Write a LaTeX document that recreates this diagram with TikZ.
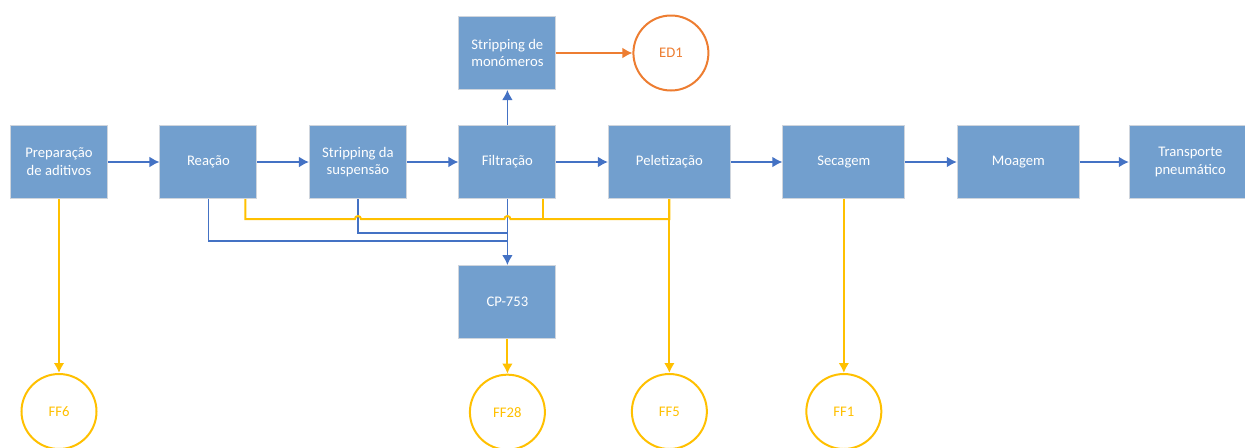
\documentclass[tikz,border=0pt]{standalone}
\usepackage{fontspec}
\setmainfont{Carlito}
\usepackage{tikz}
\usetikzlibrary{arrows.meta, positioning, calc}
\definecolor{boxfill}{HTML}{729FCE}
\definecolor{boxline}{HTML}{CFD5DD}
\definecolor{flowblue}{HTML}{4472C4}
\definecolor{wastey}{HTML}{FFC000}
\definecolor{emisso}{HTML}{ED7D31}

\begin{document}
\begin{tikzpicture}[node distance={38.6pt},
    proc/.style = {draw=boxline, line width=0.75pt, fill=boxfill, text=white, align=center,
                   minimum width=72.75pt, minimum height=54.75pt, inner sep=2pt,
                   font=\fontsize{11}{13.3}\selectfont},
    wide/.style = {proc, minimum width=91.5pt},
    sink/.style = {draw, circle, line width=1.5pt, fill=white, minimum size=56.25pt,
                   font=\fontsize{11}{13.3}\selectfont},
    bflow/.style = {draw=flowblue, line width=1pt, -{Latex[length=7.5pt,width=8pt]}},
    bline/.style = {draw=flowblue, line width=1pt},
    yflow/.style = {draw=wastey, line width=1.5pt, -{Latex[length=7.5pt,width=8pt]}},
    yline/.style = {draw=wastey, line width=1.5pt}]
            \useasboundingbox (0,0) rectangle (933.75pt,-335.25pt);

            \node[proc] (prep) at (44.25pt,-121.5pt) {Preparação\\de aditivos};
            \node[proc] (reac) [right=of prep] {Reação};
            \node[proc] (susp) [right=of reac] {Stripping da\\suspensão};
            \node[proc] (filt) [right=of susp] {Filtração};
            \node[wide] (pelet) [right=of filt] {Peletização};
            \node[wide] (sec) [right=of pelet] {Secagem};
            \node[wide] (moag) [right=of sec] {Moagem};
            \node[wide] (trans) [right=36.75pt of moag] {Transporte\\pneumático};

            \node[proc] (mono) [above=26.25pt of filt] {Stripping de\\monómeros};
            \node[proc] (cp) [below=49.5pt of filt] {CP-753};

            \node[sink, draw=emisso, text=emisso] (ed1) [right=57pt of mono] {ED1};
            \node[sink, draw=wastey, text=wastey] (ff6) [below=130.5pt of prep] {FF6};
            \node[sink, draw=wastey, text=wastey] (ff28) [below=26pt of cp] {FF28};
            \node[sink, draw=wastey, text=wastey] (ff5) [below=130.5pt of pelet] {FF5};
            \node[sink, draw=wastey, text=wastey] (ff1) [below=130.5pt of sec] {FF1};

            \path[bflow] (prep) -- (reac);
            \path[bflow] (reac) -- (susp);
            \path[bflow] (susp) -- (filt);
            \path[bflow] (filt) -- (pelet);
            \path[bflow] (pelet) -- (sec);
            \path[bflow] (sec) -- (moag);
            \path[bflow] (moag) -- (trans);
            \path[bflow] (filt) -- (mono);
            \path[bflow, draw=emisso] (mono) -- (ed1);

            % streams to CP-753
            \coordinate (jreac) at ($(filt.south)+(0,-31.5pt)$);
            \coordinate (jsusp) at ($(filt.south)+(0,-25.5pt)$);
            \path[bline] (reac.south) |- (jreac);
            \path[bline] (susp.south) |- (jsusp);
            \path[bflow] (filt) -- (cp);

            % waste streams
            \path[yline] ($(reac.south east)+(-9pt,0)$) |- ($(susp.south)+(-2.25pt,-15pt)$)
                arc[start angle=180, end angle=0, radius=2.25pt]
                -- ($(filt.south)+(-2.25pt,-15pt)$)
                arc[start angle=180, end angle=0, radius=2.25pt]
                -| (pelet.south);
            \path[yline] ($(filt.south east)+(-9.75pt,0)$) -- ++(0,-15pt);
            \path[yflow] (prep) -- (ff6);
            \path[yflow] (cp) -- (ff28);
            \path[yflow] (pelet) -- (ff5);
            \path[yflow] (sec) -- (ff1);
        \end{tikzpicture}
\end{document}
